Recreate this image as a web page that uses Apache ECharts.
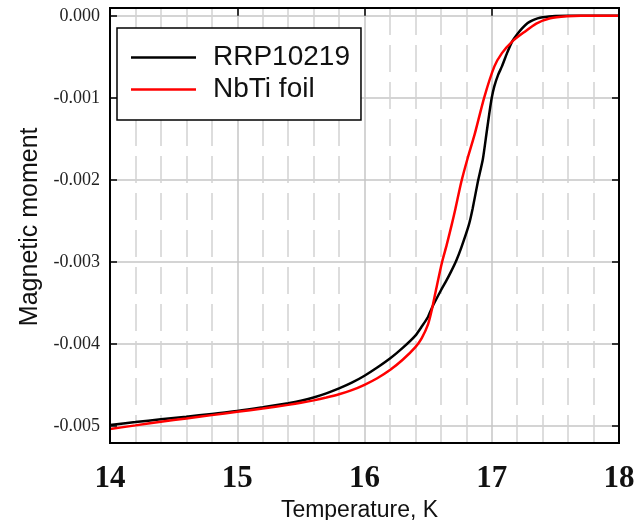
<!DOCTYPE html>
<html>
<head>
<meta charset="utf-8">
<script src="https://cdn.jsdelivr.net/npm/echarts@6/dist/echarts.min.js"></script>
<style>html,body{margin:0;padding:0;background:#fff}#c{width:634px;height:520px}</style>
</head>
<body>
<div id="c"></div>
<script>
const seriesNames = ['RRP10219', 'NbTi foil'];
const rrpT = [14.0,14.2,14.4,14.6,14.8,15.0,15.2,15.4,15.5,15.6,15.7,15.8,15.9,16.0,16.1,16.2,16.3,16.4,16.45,16.5,16.53,16.6,16.64,16.68,16.72,16.76,16.82,16.85,16.89,16.93,16.96,16.98,17.0,17.02,17.05,17.08,17.12,17.16,17.2,17.24,17.28,17.32,17.36,17.4,17.45,17.5,17.6,18.0];
const rrpM = [-0.00499,-0.004955,-0.00492,-0.00489,-0.004855,-0.00482,-0.004775,-0.004725,-0.004695,-0.004655,-0.004605,-0.004545,-0.004475,-0.00439,-0.00429,-0.00418,-0.00405,-0.00390,-0.00379,-0.00367,-0.00356,-0.00335,-0.00324,-0.00312,-0.00299,-0.00283,-0.00255,-0.00235,-0.00203,-0.00175,-0.00142,-0.00120,-0.00100,-0.00086,-0.00072,-0.000617,-0.000455,-0.000314,-0.000225,-0.00015,-0.00009,-0.000055,-0.000032,-0.000018,-0.000008,-0.000003,0,0];
const nbtiT = [14.0,14.2,14.4,14.6,14.8,15.0,15.2,15.4,15.5,15.6,15.7,15.8,15.9,16.0,16.1,16.2,16.3,16.4,16.45,16.5,16.53,16.565,16.61,16.645,16.685,16.715,16.76,16.81,16.865,16.94,17.02,17.08,17.16,17.25,17.35,17.46,17.59,17.7,18.0];
const nbtiM = [-0.00504,-0.004995,-0.00495,-0.00491,-0.00487,-0.00483,-0.00479,-0.004745,-0.00472,-0.00469,-0.004655,-0.004615,-0.004565,-0.0045,-0.00442,-0.00432,-0.004195,-0.00404,-0.00393,-0.00376,-0.00358,-0.00332,-0.0030,-0.0028,-0.00255,-0.00235,-0.00203,-0.00174,-0.00145,-0.00100,-0.00062,-0.000455,-0.000314,-0.000205,-0.000095,-0.000031,-0.000006,0,0];
const xTicks = [14, 15, 16, 17, 18];
const yTicks = [0, -0.001, -0.002, -0.003, -0.004, -0.005];

const chart = echarts.init(document.getElementById('c'), null, {renderer: 'canvas'});
const pair = (xs, ys) => xs.map((x, i) => [x, ys[i]]);
const gridColor = '#c6c6c6';
const option = {
  animation: false,
  backgroundColor: '#fff',
  grid: [
    {left: 110, right: 15, top: 8, bottom: 77, show: true, borderColor: '#000', borderWidth: 2, backgroundColor: 'transparent', z: 5, containLabel: false, outerBoundsMode: 'none'},
    {left: 110, right: 15, top: 15.79, bottom: 94.22, show: false, containLabel: false, outerBoundsMode: 'none'}
  ],
  legend: {
    left: 117, top: 28, orient: 'vertical',
    data: seriesNames,
    icon: 'rect',
    backgroundColor: '#fff',
    borderColor: '#000', borderWidth: 1.5,
    padding: [15, 11, 16, 14],
    itemWidth: 65, itemHeight: 2.5, itemGap: 3,
    textStyle: {fontFamily: 'Liberation Sans', fontSize: 28, color: '#111', padding: [0, 0, 0, 12], lineHeight: 29}
  },
  xAxis: [
    {
      type: 'value', gridIndex: 0, min: xTicks[0], max: xTicks[xTicks.length - 1], interval: 1,
      axisLine: {show: false},
      axisTick: {show: true, inside: true, length: 7, lineStyle: {color: '#000', width: 1.5}},
      axisLabel: {margin: 20, fontFamily: 'Liberation Serif', fontWeight: 'bold', fontSize: 31, color: '#111'},
      splitLine: {show: true, lineStyle: {color: gridColor, width: 1.5}},
      minorTick: {show: false, splitNumber: 5},
      minorSplitLine: {show: true, lineStyle: {color: '#d2d2d2', width: 1.5, type: [27, 10]}},
      name: 'Temperature, K', nameLocation: 'middle', nameGap: 48,
      nameTextStyle: {fontFamily: 'Liberation Sans', fontSize: 23, color: '#111', padding: [0, 10, 0, 0]}
    },
    {
      type: 'value', gridIndex: 0, position: 'top', min: 14, max: 18, interval: 1,
      axisLine: {show: false},
      axisTick: {show: true, inside: true, length: 7, lineStyle: {color: '#000', width: 1.5}},
      axisLabel: {show: false}, splitLine: {show: false}
    },
    {type: 'value', gridIndex: 1, min: 14, max: 18, show: false}
  ],
  yAxis: [
    {type: 'value', gridIndex: 0, min: -0.00521, max: 0.000095, show: false, splitLine: {show: false}},
    {
      type: 'value', gridIndex: 1, position: 'left', min: yTicks[yTicks.length - 1], max: yTicks[0], interval: 0.001,
      axisLine: {show: false},
      axisTick: {show: true, inside: true, length: 7, lineStyle: {color: '#000', width: 1.5}},
      axisLabel: {margin: 10, fontFamily: 'Liberation Serif', fontSize: 18, color: '#222', formatter: v => v.toFixed(3)},
      splitLine: {show: true, lineStyle: {color: gridColor, width: 1.5}},
      name: 'Magnetic moment', nameLocation: 'middle', nameGap: 57, nameRotate: 90,
      nameTextStyle: {fontFamily: 'Liberation Sans', fontSize: 25, color: '#111', padding: [0, 12, 0, 0]}
    },
    {
      type: 'value', gridIndex: 1, position: 'right', min: -0.005, max: 0, interval: 0.001,
      axisLine: {show: false},
      axisTick: {show: true, inside: true, length: 7, lineStyle: {color: '#000', width: 1.5}},
      axisLabel: {show: false}, splitLine: {show: false}
    }
  ],
  series: [
    {name: seriesNames[0], type: 'line', xAxisIndex: 0, yAxisIndex: 0, data: pair(rrpT, rrpM), symbol: 'none', showSymbol: false, smooth: 0.2,
     lineStyle: {color: '#000', width: 2.5}, itemStyle: {color: '#000'}, z: 3},
    {name: seriesNames[1], type: 'line', xAxisIndex: 0, yAxisIndex: 0, data: pair(nbtiT, nbtiM), symbol: 'none', showSymbol: false, smooth: 0.2,
     lineStyle: {color: '#ff0000', width: 2.5}, itemStyle: {color: '#ff0000'}, z: 3}
  ]
};
chart.setOption(option);
</script>
</body>
</html>
